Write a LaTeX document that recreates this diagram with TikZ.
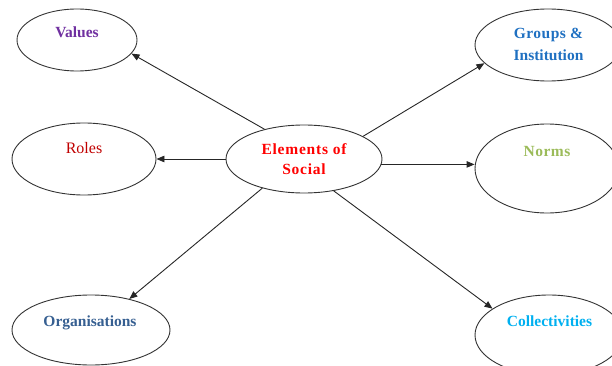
\documentclass[tikz,border=0pt]{standalone}
\usepackage{fontspec}
\setmainfont{Liberation Serif}
\usetikzlibrary{arrows.meta,shapes.geometric}
\definecolor{cvalues}{HTML}{7030A0}
\definecolor{cgroups}{HTML}{1F70C1}
\definecolor{celem}{HTML}{FF0000}
\definecolor{croles}{HTML}{C00000}
\definecolor{cnorms}{HTML}{9BBB59}
\definecolor{corg}{HTML}{365F91}
\definecolor{ccoll}{HTML}{00B0F0}
\begin{document}
\begin{tikzpicture}[x=1pt,y=-1pt,
  oval/.style={draw=black!80,line width=0.9pt,ellipse,inner sep=0pt},
  lbl/.style={anchor=base,font=\fontsize{15.5}{18}\selectfont\bfseries,inner sep=0pt},
  conn/.style={draw=black!85,line width=0.9pt,-{Triangle[length=8pt,width=6.5pt]}}]
\useasboundingbox (0,0) rectangle (612,366);
% ellipses
\node[oval,minimum width=120pt,minimum height=62pt] (values) at (77,40) {};
\node[oval,minimum width=146pt,minimum height=72pt] (groups) at (548,45) {};
\node[oval,minimum width=156pt,minimum height=68pt] (el) at (304,159) {};
\node[oval,minimum width=144pt,minimum height=72pt] (roles) at (84,159) {};
\node[oval,minimum width=144pt,minimum height=89pt] (norms) at (547,168.5) {};
\node[oval,minimum width=158pt,minimum height=70pt] (org) at (91,330) {};
\node[oval,minimum width=148pt,minimum height=80pt] (coll) at (549,335) {};
% labels
\node[lbl,text=cvalues] (tvalues) at (77,37.5) {Values};
\node[lbl,text=cgroups] (tgroups1) at (548.5,39) {\addfontfeature{LetterSpace=3}Groups \&};
\node[lbl,text=cgroups] (tgroups2) at (548.5,60.5) {Institution};
\node[lbl,text=celem] (telem1) at (304,154) {\addfontfeature{LetterSpace=5}Elements of};
\node[lbl,text=celem] (telem2) at (304,174.5) {\addfontfeature{LetterSpace=5}Social};
\node[lbl,text=croles,font=\fontsize{16}{18}\selectfont] (troles) at (84,153.5) {Roles};
\node[lbl,text=cnorms] (tnorms) at (547,157) {\addfontfeature{LetterSpace=3}Norms};
\node[lbl,text=corg] (torg) at (90,326) {Organisations};
\node[lbl,text=ccoll] (tcoll) at (549.5,326) {Collectivities};
% connectors
\draw[conn] (el.143.6) -- (values.-14);
\draw[conn] (el.21.8) -- (groups.196);
\draw[conn] (el.west) -- (el.west -| roles.east);
\draw[conn] (el.-4) -- (el.-4 -| norms.west);
\draw[conn] (el.215.2) -- (org.39.8);
\draw[conn] (el.-47.4) -- (coll.155);
\end{tikzpicture}
\end{document}
